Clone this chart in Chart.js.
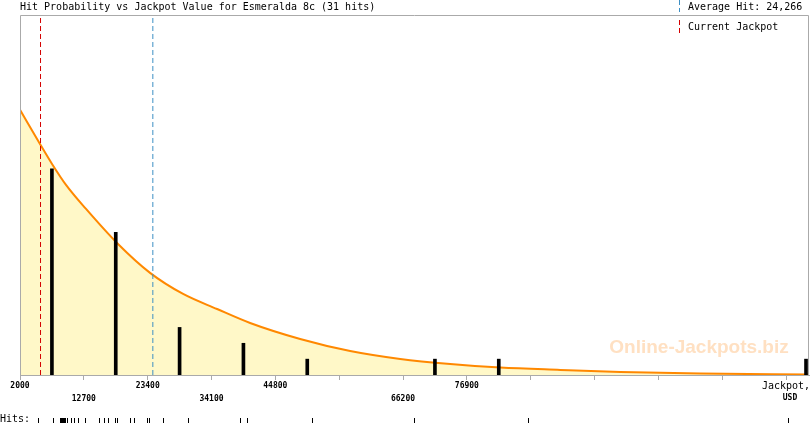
<!DOCTYPE html>
<html lang="en">
<head>
  <meta charset="UTF-8">
  <title>Hit Probability vs Jackpot Value - Esmeralda 8c</title>
  <script src="https://cdn.jsdelivr.net/npm/chart.js@4.4.1/dist/chart.umd.min.js"></script>
  <style>
    body {
      margin: 0;
      padding: 0;
      background-color: #ffffff;
    }
    canvas {
      display: block;
    }
  </style>
</head>
<body>
  <canvas id="hitChart" width="810" height="425"></canvas>

  <script>
    // jackpot axis (USD)
    const jackpotMin = 2000;
    const jackpotMax = 134250;
    const tickValues = [2000, 12700, 23400, 34100, 44800, 55500, 66200, 76900, 87600, 98300, 109000, 119700, 130400];
    const tickLabels = ['2000', '12700', '23400', '34100', '44800', '', '66200', '76900', '', '', '', '', ''];
    const axisTitle = ['Jackpot,', 'USD'];

    // histogram of hits per bin (bin centres)
    const binCenters = [7350, 18050, 28750, 39450, 50150, 71550, 82250, 133750];
    const binHits = [13, 9, 3, 2, 1, 1, 1, 1];

    // expected hit curve
    const curveX = [2000, 5350, 7370, 9710, 13070, 18430, 23800, 29340, 35040, 40570, 48960, 57340, 65730, 74110, 82500, 92560, 102620, 116040, 134250];
    const curveY = [16.72, 14.57, 13.31, 11.99, 10.47, 8.26, 6.44, 5.11, 4.16, 3.28, 2.27, 1.51, 1.01, 0.69, 0.47, 0.32, 0.19, 0.09, 0.03];

    // individual hits
    const hitValues = [5020, 7530, 8710, 8880, 9040, 9210, 9380, 9550, 9610, 9830, 10550, 11060, 11730,
      12900, 15250, 16090, 16760, 17930, 18270, 20450, 21120, 23300,
      23630, 25980, 30170, 38890, 40070, 50970, 68070, 87160, 130740];

    const averageHit = 24266;
    const currentJackpot = 5440;
    const yMax = 22.7;

    const titleText = 'Hit Probability vs Jackpot Value for Esmeralda 8c (31 hits)';
    const legendAverage = 'Average Hit: 24,266';
    const legendCurrent = 'Current Jackpot';
    const watermark = 'Online-Jackpots.biz';

    const mono = '"DejaVu Sans Mono", monospace';

    // which row (top / bottom) each non-empty tick label goes in
    const labelRows = [];
    let shown = 0;
    tickLabels.forEach((t) => {
      labelRows.push(t ? (shown++ % 2) : -1);
    });

    const extras = {
      id: 'extras',
      beforeDatasetsDraw(chart) {
        const { ctx, chartArea } = chart;
        ctx.save();
        ctx.font = 'bold 19px "Liberation Sans", Arial, sans-serif';
        ctx.fillStyle = '#ffe0c2';
        ctx.textAlign = 'center';
        ctx.textBaseline = 'middle';
        ctx.fillText(watermark, chartArea.right - 110, chartArea.bottom - 27);
        ctx.restore();
      },
      afterDatasetsDraw(chart) {
        const { ctx, chartArea } = chart;
        ctx.save();
        ctx.strokeStyle = '#aaaaaa';
        ctx.lineWidth = 1;
        ctx.beginPath();
        ctx.moveTo(chartArea.left + 0.5, chartArea.bottom);
        ctx.lineTo(chartArea.left + 0.5, chartArea.top + 0.5);
        ctx.lineTo(chartArea.right - 0.5, chartArea.top + 0.5);
        ctx.lineTo(chartArea.right - 0.5, chartArea.bottom);
        ctx.stroke();
        ctx.restore();
      },
      afterDraw(chart) {
        const { ctx } = chart;
        const xs = chart.scales.x;
        ctx.save();

        // legend
        ctx.lineWidth = 1;
        ctx.setLineDash([5, 3]);
        ctx.strokeStyle = '#3d8fc4';
        ctx.beginPath();
        ctx.moveTo(679.5, 0);
        ctx.lineTo(679.5, 12);
        ctx.stroke();
        ctx.strokeStyle = '#d40000';
        ctx.beginPath();
        ctx.moveTo(679.5, 20);
        ctx.lineTo(679.5, 34);
        ctx.stroke();
        ctx.setLineDash([]);
        ctx.fillStyle = '#000';
        ctx.font = '10px ' + mono;
        ctx.textAlign = 'left';
        ctx.textBaseline = 'middle';
        ctx.fillText(legendAverage, 688, 7);
        ctx.fillText(legendCurrent, 688, 27);

        // axis title at last tick
        const tx = xs.getPixelForValue(tickValues[tickValues.length - 1]);
        ctx.textAlign = 'center';
        ctx.fillText(axisTitle[0], tx, 386);
        ctx.font = 'bold 8px ' + mono;
        ctx.fillText(axisTitle[1], tx + 4, 398);

        // hits strip
        ctx.font = '10px ' + mono;
        ctx.textAlign = 'left';
        ctx.fillText('Hits:', 0, 419);
        hitValues.forEach((v) => {
          const px = Math.round(xs.getPixelForValue(v));
          ctx.fillRect(px, 418, 1, 5);
        });
        ctx.restore();
      }
    };

    const ctx = document.getElementById('hitChart').getContext('2d');
    const chart = new Chart(ctx, {
      type: 'line',
      data: {
        datasets: [
          {
            type: 'bar',
            data: binCenters.map((x, i) => ({ x: x, y: binHits[i] })),
            backgroundColor: '#000000',
            barThickness: 3,
            grouped: false,
            order: 1
          },
          {
            data: [{ x: currentJackpot, y: 0 }, { x: currentJackpot, y: yMax }],
            borderColor: '#d40000',
            borderWidth: 1,
            borderDash: [5, 3],
            pointRadius: 0,
            fill: false,
            order: 2
          },
          {
            data: [{ x: averageHit, y: 0 }, { x: averageHit, y: yMax }],
            borderColor: '#3d8fc4',
            borderWidth: 1,
            borderDash: [5, 3],
            pointRadius: 0,
            fill: false,
            order: 2
          },
          {
            data: curveX.map((x, i) => ({ x: x, y: curveY[i] })),
            borderColor: '#ff8800',
            borderWidth: 2,
            backgroundColor: '#fff8c8',
            fill: 'origin',
            pointRadius: 0,
            cubicInterpolationMode: 'monotone',
            order: 3
          }
        ]
      },
      options: {
        responsive: false,
        animation: false,
        devicePixelRatio: 1,
        layout: { padding: { left: 20, right: 1, top: 0, bottom: 0 } },
        scales: {
          x: {
            type: 'linear',
            offset: false,
            min: jackpotMin,
            max: jackpotMax,
            afterBuildTicks: (scale) => {
              scale.ticks = tickValues.map((v) => ({ value: v }));
            },
            afterFit: (scale) => { scale.height = 50; },
            ticks: {
              autoSkip: false,
              maxRotation: 0,
              padding: 0,
              color: '#000',
              font: { family: mono, size: 8, weight: 'bold', lineHeight: '12.5px' },
              callback: (value, index) => {
                const lab = tickLabels[index];
                if (!lab) return '';
                return labelRows[index] === 0 ? [lab, ''] : ['', lab];
              }
            },
            grid: {
              offset: false,
              drawOnChartArea: false,
              drawTicks: true,
              tickLength: 5,
              color: '#aaaaaa'
            },
            border: { display: true, color: '#aaaaaa' }
          },
          y: {
            display: false,
            min: 0,
            max: yMax
          }
        },
        plugins: {
          legend: { display: false },
          tooltip: { enabled: false },
          title: {
            display: true,
            text: titleText,
            align: 'start',
            color: '#000',
            font: { family: mono, size: 10, weight: 'normal', lineHeight: 1.2 },
            padding: { top: 1, bottom: 2 }
          }
        }
      },
      plugins: [extras]
    });
  </script>
</body>
</html>
